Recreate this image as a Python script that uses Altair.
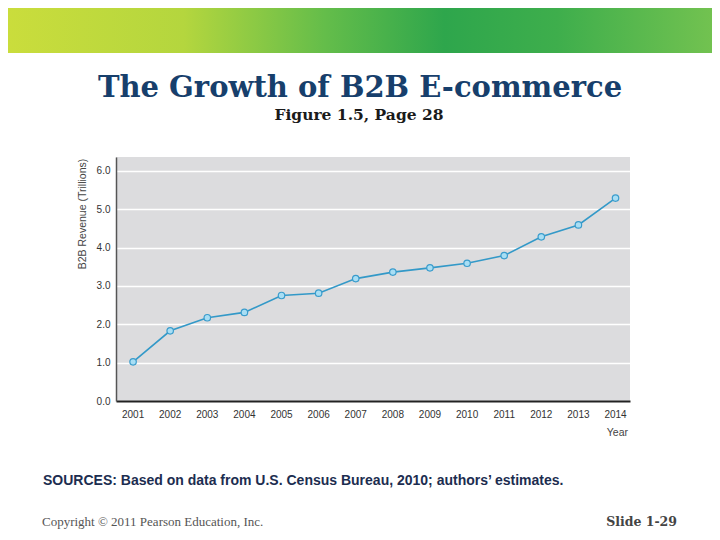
import altair as alt
import pandas as pd

years = [2001, 2002, 2003, 2004, 2005, 2006, 2007, 2008, 2009, 2010, 2011, 2012, 2013, 2014]
revenue = [1.02, 1.83, 2.17, 2.31, 2.75, 2.81, 3.19, 3.36, 3.47, 3.59, 3.79, 4.28, 4.59, 5.29]
y_ticks = [0, 1, 2, 3, 4, 5, 6]

title_text = "The Growth of B2B E-commerce"
subtitle_text = "Figure 1.5, Page 28"
y_title = "B2B Revenue (Trillions)"
x_title = "Year"
source_text = "SOURCES:  Based on data from U.S. Census Bureau, 2010; authors\u2019 estimates."
copyright_text = "Copyright \u00a9 2011 Pearson Education, Inc."
slide_text = "Slide 1-29"

df = pd.DataFrame({"year": years, "revenue": revenue})
one = pd.DataFrame({"k": [0]})

W, H = 514, 244
PL, PT = 108, 149

xs = alt.Scale(domain=[2000.54, 2014.39], nice=False, zero=False)
ys = alt.Scale(domain=[0, 6.36], nice=False)

x_enc = alt.X("year:Q", scale=xs, title=None,
              axis=alt.Axis(values=years, labels=False, grid=False, ticks=False,
                            domainColor="#222222", domainWidth=2))
y_enc = alt.Y("revenue:Q", scale=ys, title=None,
              axis=alt.Axis(values=y_ticks, format=".1f", grid=True, gridColor="white",
                            gridWidth=1.5, ticks=False, domainColor="#555555", domainWidth=1.5,
                            labelPadding=6, labelFont="Liberation Sans", labelFontSize=10,
                            labelColor="#333333", labelOverlap=False))

line = alt.Chart(df).mark_line(color="#3399c8", strokeWidth=1.6).encode(x=x_enc, y=y_enc)
pts = alt.Chart(df).mark_point(filled=True, fill="#a8def4", stroke="#3a9ccc",
                               strokeWidth=1.2, size=42, opacity=1).encode(x="year:Q", y="revenue:Q")
xlabels = alt.Chart(df).mark_text(font="Liberation Sans", fontSize=10, color="#333333",
                                  align="center", baseline="alphabetic").encode(
    x="year:Q", y=alt.value(H + 17), text=alt.Text("year:Q", format="d"))

banner = alt.Chart(one).mark_rect(
    color=alt.Gradient(
        gradient="linear", x1=0, x2=1, y1=0, y2=0,
        stops=[alt.GradientStop(color="#cadd3c", offset=0),
               alt.GradientStop(color="#b4d63e", offset=0.25),
               alt.GradientStop(color="#64bd4a", offset=0.45),
               alt.GradientStop(color="#2ea64c", offset=0.62),
               alt.GradientStop(color="#3eae4c", offset=0.78),
               alt.GradientStop(color="#72c250", offset=1)])
).encode(x=alt.value(-PL), x2=alt.value(704 - PL), y=alt.value(-PT), y2=alt.value(53 - 157))

def txt(text, x, y, **kw):
    return alt.Chart(one).mark_text(**kw).encode(
        x=alt.value(x), y=alt.value(y), text=alt.value(text))

title = txt(title_text, 360 - 116, 97 - 157, font="DejaVu Serif", fontSize=29,
            fontWeight="bold", color="#173f6c", align="center", baseline="alphabetic")
subtitle = txt(subtitle_text, 359 - 116, 120 - 157, font="DejaVu Serif", fontSize=15.5,
               fontWeight="bold", color="#1a1a1a", align="center", baseline="alphabetic")
ytitle = txt(y_title, 83 - 116, 214 - 157, font="Liberation Sans", fontSize=10.5,
             color="#444444", angle=270, align="center", baseline="middle")
xtitle = txt(x_title, 628 - 116, 436 - 157, font="Liberation Sans", fontSize=10.5,
             color="#444444", align="right", baseline="alphabetic")
source = txt(source_text, 43 - 116, 485 - 157, font="Liberation Sans", fontSize=14,
             fontWeight="bold", color="#1c2d50", align="left", baseline="alphabetic")
copy_ = txt(copyright_text, 42 - 116, 526 - 157, font="Liberation Serif", fontSize=13,
            color="#555555", align="left", baseline="alphabetic")
slide = txt(slide_text, 677 - 116, 526 - 157, font="DejaVu Serif", fontSize=12.5,
            fontWeight="bold", color="#444444", align="right", baseline="alphabetic")

chart = alt.layer(banner, line, pts, xlabels, title, subtitle, ytitle, xtitle, source, copy_, slide).properties(
    width=W, height=H,
    autosize=alt.AutoSizeParams(type="none"),
    padding={"left": PL, "top": PT, "right": 704 - PL - W, "bottom": 524 - PT - H},
    background="white",
).configure_view(fill="#dcdcde", stroke=None)

chart.save("out.html", embed_options={"renderer": "svg", "actions": False})
